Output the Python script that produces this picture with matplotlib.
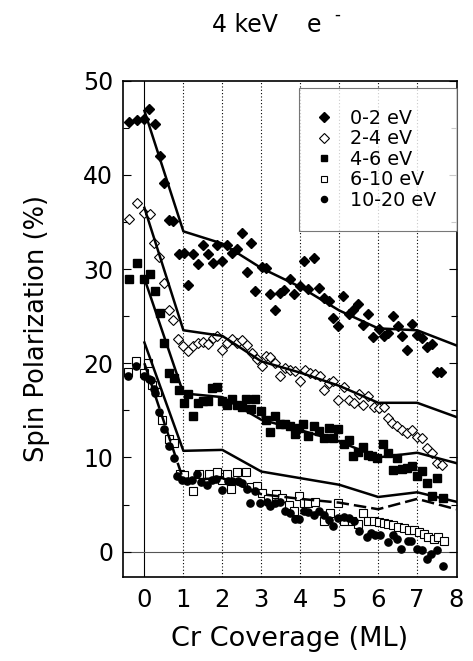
import matplotlib.pyplot as plt

plt.rcParams['font.family'] = ['DejaVu Sans']

# measured points (coverage ML, polarization %)
x_0_2 = [-0.40, -0.20, 0.00, 0.11, 0.27, 0.39, 0.50, 0.62, 0.74, 0.90, 1.01, 1.12, 1.25, 1.38, 1.50,
         1.62, 1.75, 1.86, 2.00, 2.12, 2.25, 2.38, 2.50, 2.62, 2.74, 2.85, 3.02, 3.13, 3.23, 3.34,
         3.49, 3.57, 3.73, 3.85, 4.00, 4.10, 4.21, 4.34, 4.47, 4.60, 4.73, 4.85, 4.98, 5.09, 5.24,
         5.35, 5.47, 5.61, 5.73, 5.86, 6.01, 6.14, 6.24, 6.38, 6.50, 6.62, 6.74, 6.88, 6.99, 7.12,
         7.25, 7.38, 7.50, 7.62]
y_0_2 = [45.6, 45.8, 45.9, 47.0, 45.4, 42.0, 39.1, 35.2, 35.1, 31.6, 31.7, 28.3, 31.6, 30.5, 32.6,
         31.6, 30.6, 32.5, 30.9, 32.5, 31.7, 32.1, 33.8, 29.7, 32.8, 27.7, 30.2, 30.1, 27.3, 25.7,
         27.5, 27.8, 28.9, 27.3, 28.2, 30.8, 27.9, 31.2, 28.0, 26.9, 26.6, 24.8, 23.9, 27.1, 25.2,
         25.7, 26.3, 24.1, 25.2, 22.8, 23.6, 22.9, 23.2, 25.0, 23.9, 22.9, 21.4, 24.2, 23.0, 22.7,
         21.7, 22.0, 19.1, 19.1]

x_2_4 = [-0.40, -0.20, -0.02, 0.15, 0.24, 0.37, 0.50, 0.62, 0.74, 0.87, 0.99, 1.12, 1.25, 1.37, 1.50,
         1.62, 1.75, 1.86, 2.00, 2.12, 2.25, 2.38, 2.50, 2.63, 2.76, 2.89, 3.02, 3.12, 3.23, 3.36,
         3.49, 3.62, 3.74, 3.87, 4.00, 4.13, 4.26, 4.38, 4.50, 4.60, 4.73, 4.84, 4.98, 5.11, 5.24,
         5.37, 5.50, 5.62, 5.75, 5.88, 6.01, 6.14, 6.24, 6.35, 6.48, 6.61, 6.74, 6.86, 6.99, 7.12,
         7.25, 7.38, 7.50, 7.63]
y_2_4 = [35.3, 37.0, 36.0, 35.8, 32.8, 31.3, 28.5, 25.7, 24.6, 22.6, 21.8, 21.3, 21.8, 22.1, 22.3,
         22.0, 22.7, 22.9, 21.4, 22.2, 22.6, 22.2, 22.5, 21.9, 21.1, 20.5, 19.7, 20.8, 20.7, 20.0,
         18.6, 19.5, 19.3, 19.2, 18.1, 19.3, 19.0, 18.9, 18.6, 17.2, 17.9, 18.1, 16.1, 17.5, 16.1,
         15.8, 16.7, 15.6, 16.5, 15.4, 15.3, 15.4, 14.2, 13.7, 13.3, 12.9, 12.6, 12.9, 12.2, 12.1,
         11.0, 10.5, 9.4, 9.2]

x_4_6 = [-0.40, -0.20, 0.00, 0.14, 0.26, 0.39, 0.50, 0.62, 0.75, 0.88, 1.01, 1.12, 1.25, 1.38, 1.50,
         1.62, 1.74, 1.86, 1.99, 2.12, 2.25, 2.38, 2.50, 2.60, 2.73, 2.85, 2.99, 3.12, 3.23, 3.36,
         3.49, 3.62, 3.74, 3.87, 3.96, 4.08, 4.21, 4.34, 4.47, 4.60, 4.73, 4.85, 4.98, 5.11, 5.24,
         5.35, 5.47, 5.61, 5.73, 5.84, 5.97, 6.12, 6.24, 6.38, 6.48, 6.61, 6.74, 6.86, 6.99, 7.12,
         7.25, 7.38, 7.50, 7.66]
y_4_6 = [28.9, 30.6, 28.9, 29.5, 27.7, 25.3, 22.2, 19.0, 18.4, 17.2, 15.8, 16.7, 14.4, 15.8, 16.0,
         16.0, 17.4, 17.5, 16.0, 15.6, 16.2, 15.6, 15.4, 16.2, 15.1, 16.2, 14.9, 14.0, 12.7, 14.4,
         13.6, 13.5, 13.3, 12.5, 13.1, 13.5, 12.3, 13.3, 12.8, 12.1, 13.1, 12.1, 13.0, 11.4, 11.8,
         10.1, 10.6, 11.1, 10.3, 10.1, 9.9, 11.4, 10.5, 8.7, 9.9, 8.8, 8.9, 9.1, 8.0, 8.6,
         7.3, 5.9, 7.8, 5.7]

x_6_10 = [-0.41, -0.21, 0.00, 0.08, 0.20, 0.32, 0.45, 0.62, 0.77, 0.92, 1.01, 1.24, 1.41, 1.65, 1.86,
          1.99, 2.12, 2.23, 2.38, 2.61, 2.74, 2.89, 3.02, 3.17, 3.38, 3.53, 3.70, 3.85, 3.96, 4.09,
          4.21, 4.37, 4.60, 4.77, 4.97, 5.11, 5.33, 5.48, 5.62, 5.75, 5.88, 6.01, 6.14, 6.26, 6.39,
          6.52, 6.65, 6.78, 6.91, 7.04, 7.17, 7.29, 7.42, 7.53, 7.68]
y_6_10 = [19.1, 20.2, 19.0, 20.0, 17.7, 16.9, 14.0, 12.0, 11.5, 8.2, 8.1, 6.4, 8.2, 8.2, 8.4,
          7.6, 8.2, 6.6, 8.4, 8.4, 6.9, 7.0, 6.2, 5.6, 6.1, 5.7, 5.0, 4.3, 5.9, 5.2,
          5.2, 5.3, 3.2, 4.1, 5.2, 3.2, 3.2, 2.9, 4.1, 3.2, 3.2, 3.1, 3.0, 2.9, 2.8,
          2.6, 2.5, 2.3, 2.3, 2.1, 1.9, 1.5, 1.3, 1.5, 1.1]

x_10_20 = [-0.41, -0.21, 0.00, 0.11, 0.18, 0.24, 0.28, 0.37, 0.50, 0.62, 0.76, 0.84, 0.97, 1.09, 1.22,
           1.35, 1.46, 1.61, 1.74, 1.84, 1.99, 2.15, 2.26, 2.40, 2.50, 2.63, 2.72, 2.83, 2.97, 3.15,
           3.23, 3.36, 3.49, 3.62, 3.74, 3.87, 3.96, 4.09, 4.21, 4.34, 4.49, 4.62, 4.74, 4.85, 4.98,
           5.11, 5.24, 5.37, 5.50, 5.71, 5.82, 5.92, 6.05, 6.25, 6.39, 6.48, 6.59, 6.76, 6.85, 6.99,
           7.12, 7.25, 7.36, 7.50, 7.65]
y_10_20 = [18.6, 19.7, 18.6, 18.3, 18.2, 17.3, 16.8, 14.8, 13.0, 11.2, 9.9, 8.0, 7.6, 7.5, 7.6,
           8.2, 7.4, 7.1, 7.6, 7.7, 6.5, 7.5, 7.5, 7.5, 7.3, 6.6, 5.2, 6.4, 5.2, 5.3,
           4.8, 5.2, 5.3, 4.3, 4.1, 3.5, 3.5, 4.3, 4.2, 3.9, 4.3, 3.9, 3.4, 2.7, 3.6,
           3.7, 3.6, 3.3, 2.2, 1.6, 2.0, 1.8, 1.8, 1.0, 1.8, 1.35, 0.3, 1.1, 1.1, 0.3,
           0.2, -0.8, -0.2, 0.2, -1.5]

# model curves at integer coverage
fit_x = [0, 1, 2, 3, 4, 5, 6, 7, 8]
fit_0_2 = [46.8, 34.0, 32.7, 30.1, 28.1, 25.6, 23.7, 23.5, 21.9]
fit_2_4 = [36.5, 23.5, 22.9, 20.2, 19.0, 17.6, 15.8, 15.8, 14.3]
fit_4_6 = [29.0, 16.8, 16.4, 14.0, 12.9, 11.7, 10.0, 10.5, 9.4]
fit_10_20 = [22.2, 10.7, 10.8, 8.5, 7.8, 7.1, 5.8, 6.3, 5.3]
fit_dash = [20.0, 7.6, 7.8, 6.1, 5.6, 5.2, 4.5, 5.6, 4.5]

fig = plt.figure(figsize=(4.73, 6.61), dpi=100)
ax = fig.add_axes([0.260, 0.127, 0.706, 0.751])

for xv in range(1, 8):
    ax.axvline(xv, color='black', lw=0.8, ls=(0, (1, 2)), zorder=1)
ax.axvline(0, color='black', lw=0.8, zorder=1)
ax.axhline(0, color='#555555', lw=0.8, zorder=1)

ax.plot(x_0_2, y_0_2, 'D', color='black', ms=5.4, label='0-2 eV', zorder=3)
ax.plot(x_2_4, y_2_4, 'D', mfc='white', mec='black', mew=0.8, ms=5.4, label='2-4 eV', zorder=3)
ax.plot(x_4_6, y_4_6, 's', color='black', ms=5.4, label='4-6 eV', zorder=3)
ax.plot(x_6_10, y_6_10, 's', mfc='white', mec='black', mew=0.8, ms=5.8, label='6-10 eV', zorder=3)
ax.plot(x_10_20, y_10_20, 'o', color='black', ms=5.2, label='10-20 eV', zorder=3)

for fy in [fit_0_2, fit_2_4, fit_4_6, fit_10_20]:
    ax.plot(fit_x, fy, '-', color='black', lw=1.8, zorder=4)
ax.plot(fit_x, fit_dash, color='black', lw=1.8, dashes=(5, 2), zorder=4)

ax.set_xlim(-0.55, 8.02)
ax.set_ylim(-2.7, 50)
ax.set_xticks(range(0, 9))
ax.set_yticks(range(0, 51, 10))
ax.set_yticks(range(5, 50, 10), minor=True)
ax.tick_params(axis='y', which='both', direction='in', left=True, right=True, labelsize=17, pad=7)
ax.tick_params(axis='y', which='major', length=6, width=0.8)
ax.tick_params(axis='y', which='minor', length=4, width=0.8)
ax.tick_params(axis='x', direction='in', length=0, labelsize=17.5, pad=8)
for s in ax.spines.values():
    s.set_linewidth(1.2)

ax.set_xlabel('Cr Coverage (ML)', fontsize=19.5, labelpad=10)
ax.set_ylabel('Spin Polarization (%)', fontsize=18.5, labelpad=24)

# title: "4 keV e" with a small superscript minus
fig.text(212 / 473, 1 - 32 / 661, '4 keV', fontsize=17, ha='left', va='baseline')
fig.text(307 / 473, 1 - 32 / 661, 'e', fontsize=17, ha='left', va='baseline')
fig.text(334 / 473, 1 - 20 / 661, '-', fontsize=12, ha='left', va='baseline')

leg = ax.legend(loc='upper right', bbox_to_anchor=(1.0, 0.986), borderaxespad=0, fontsize=13.8,
                frameon=True, fancybox=False, edgecolor='#555555', handlelength=0.36,
                handletextpad=1.17, labelspacing=0.08, borderpad=1.1, markerscale=0.85)
leg.get_frame().set_linewidth(0.8)

fig.savefig('out.png', dpi=100)
